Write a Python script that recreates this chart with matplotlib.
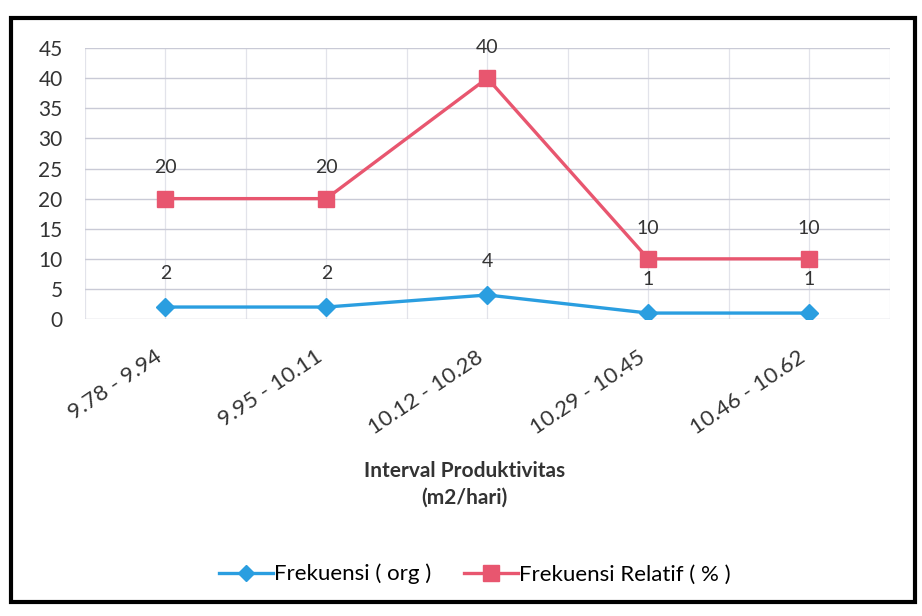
import matplotlib
matplotlib.use("Agg")
import matplotlib.pyplot as plt
from matplotlib.patches import Rectangle
from matplotlib.lines import Line2D

categories = ["9.78 - 9.94", "9.95 - 10.11", "10.12 - 10.28", "10.29 - 10.45", "10.46 - 10.62"]
frekuensi = [2, 2, 4, 1, 1]
frekuensi_relatif = [20, 20, 40, 10, 10]
y_ticks = [0, 5, 10, 15, 20, 25, 30, 35, 40, 45]

BLUE = "#2a9ee0"
PINK = "#e8566f"
GRID = "#c9cad6"
TEXT = "#333333"

plt.rcParams["font.family"] = ["Lato", "DejaVu Sans"]

fig = plt.figure(figsize=(9.22, 6.16), dpi=100)
ax = fig.add_axes([0.092, 0.482, 0.873, 0.44])

x = list(range(len(categories)))
ax.plot(x, frekuensi, color=BLUE, lw=2.4, marker="D", ms=9, mec=BLUE, mfc=BLUE,
        label="Frekuensi ( org )", zorder=3)
ax.plot(x, frekuensi_relatif, color=PINK, lw=2.4, marker="s", ms=12, mec=PINK, mfc=PINK,
        label="Frekuensi Relatif ( % )", zorder=3)

for xi, v in zip(x, frekuensi):
    ax.annotate(str(v), (xi, v), xytext=(0, 18), textcoords="offset points",
                ha="center", va="bottom", fontsize=14, color=TEXT)
for xi, v in zip(x, frekuensi_relatif):
    ax.annotate(str(v), (xi, v), xytext=(0, 16), textcoords="offset points",
                ha="center", va="bottom", fontsize=14, color=TEXT)

ax.set_xlim(-0.5, len(categories) - 0.5)
ax.set_ylim(0, 45)
ax.set_yticks(y_ticks)
ax.set_yticklabels([str(t) for t in y_ticks], fontsize=15, color=TEXT)
ax.set_xticks(x)
ax.set_xticklabels(categories, rotation=34, ha="right", va="top",
                   rotation_mode="default", fontsize=16, color=TEXT)
ax.tick_params(axis="y", length=0, pad=16)
ax.tick_params(axis="x", length=0, pad=20)

# gridlines: horizontal every 5, vertical at categories and between them
for t in y_ticks:
    ax.axhline(t, color=GRID, lw=1.0, zorder=1)
for xv in [i * 0.5 - 0.5 for i in range(2 * len(categories) + 1)]:
    ax.axvline(xv, color="#e2e3ea", lw=0.9, zorder=0)
for s in ax.spines.values():
    s.set_visible(False)

fig.text(0.504, 0.236, "Interval Produktivitas", ha="center", va="center",
         fontsize=15, fontweight="bold", color=TEXT)
fig.text(0.504, 0.192, "(m2/hari)", ha="center", va="center",
         fontsize=15, fontweight="bold", color=TEXT)

handles = [
    Line2D([], [], color=BLUE, lw=2.4, marker="D", ms=8),
    Line2D([], [], color=PINK, lw=2.4, marker="s", ms=11),
]
fig.legend(handles, ["Frekuensi ( org )", "Frekuensi Relatif ( % )"],
           loc="center", bbox_to_anchor=(0.515, 0.068), ncol=2, frameon=False,
           fontsize=16, handlelength=2.4, handletextpad=0.05, columnspacing=1.5)

# outer frame of the chart
fig.patches.append(Rectangle((0.012, 0.022), 0.98, 0.948, transform=fig.transFigure,
                             fill=False, ec="black", lw=3))

fig.savefig("out.png", dpi=100)
